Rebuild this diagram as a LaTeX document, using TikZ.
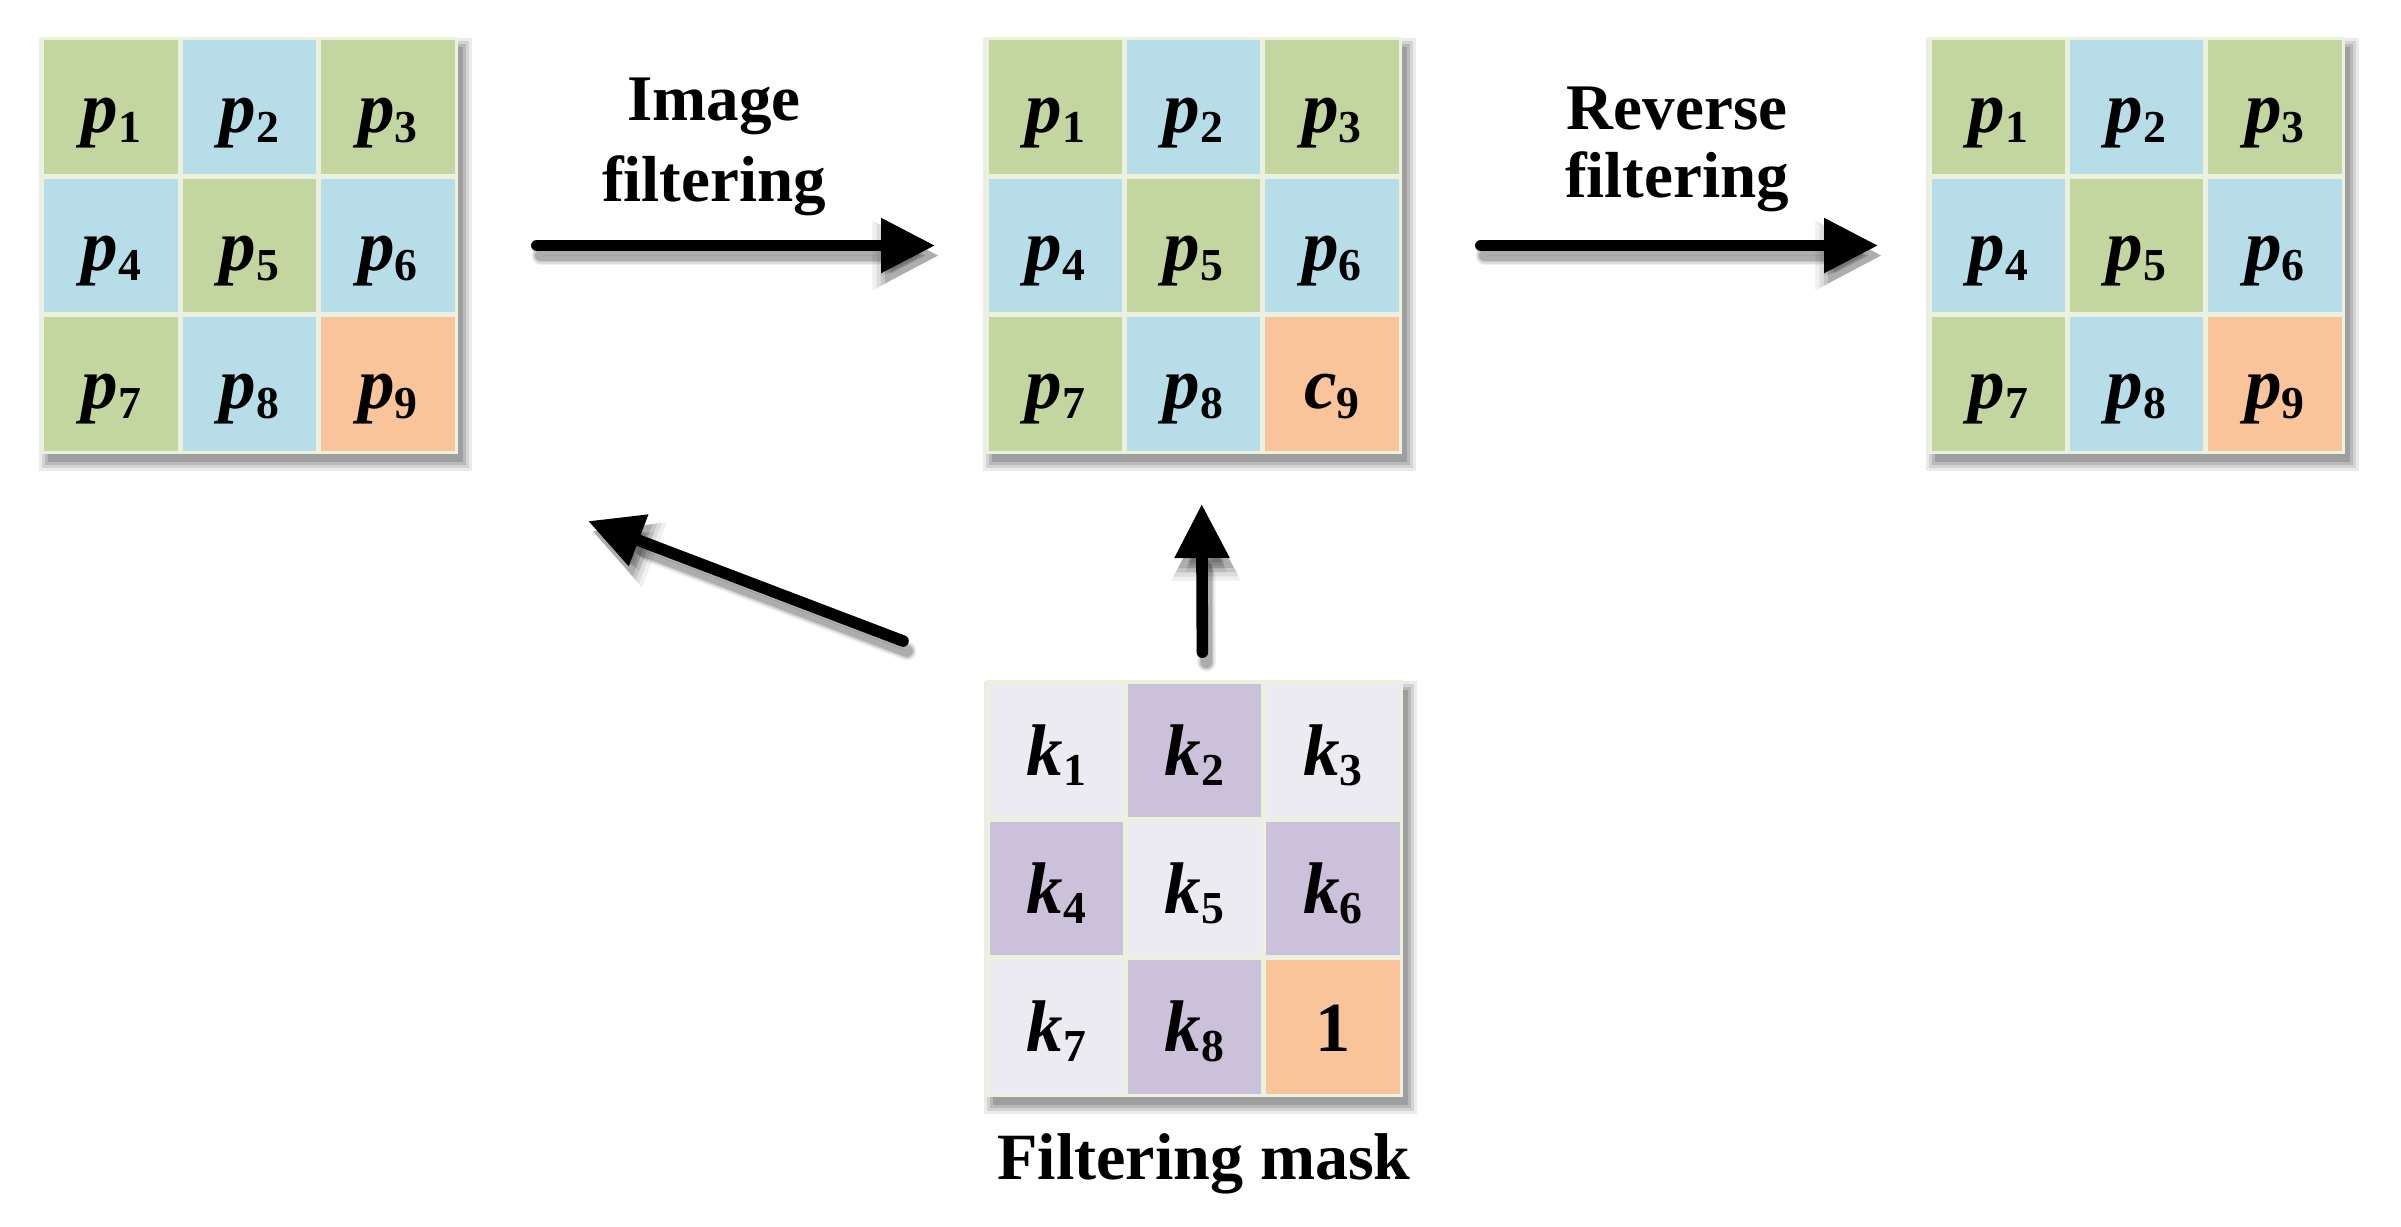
\documentclass[tikz,border=0pt]{standalone}
\usepackage{fontspec}
\setmainfont{Liberation Serif}
\usetikzlibrary{arrows.meta,calc}
\definecolor{cg}{HTML}{C4D69F}
\definecolor{cb}{HTML}{B7DDE8}
\definecolor{co}{HTML}{F9C49A}
\definecolor{ml}{HTML}{EDEBF2}
\definecolor{md}{HTML}{CCC1DA}
\definecolor{bord}{HTML}{EBF1DE}
\newcommand\plab[2]{{\fontsize{20.8pt}{24pt}\selectfont\bfseries\itshape #1}\raisebox{-2.8pt}{\fontsize{13pt}{15pt}\selectfont\bfseries #2}}
\newcommand\onelab{{\fontsize{20pt}{24pt}\selectfont\bfseries 1}}
\newcommand\gridshadow[2]{%
  \foreach \rr/\oo in {9/0.08,6/0.10,3/0.12,0/0.14}{%
    \fill[black,opacity=\oo] ({#1+6-\rr},{#2+9-\rr}) rectangle ({#1+421+\rr},{#2+424+\rr});
  }%
}
\newcommand\drawgrid[4]{%
  \gridshadow{#2}{#3}
  \node[gridbox] (#1) at ({#2+207.5},{#3+207.5}) {};
  \foreach \ro/\co/\cc/\lbl in {#4}{%
    \node[cell,fill=\cc] (#1-\ro\co) at ({#2+69.17+138.33*(\co-1)},{#3+69.17+138.33*(\ro-1)}) {\lbl};
  }%
}
\newcommand\allarrows[1]{%
  \draw[#1, shorten <=0.78cm, shorten >=0.49cm] (G1.east) -- (G2.west);
  \draw[#1, shorten <=0.78cm, shorten >=0.49cm] (G2.east) -- (G3.west);
  \draw[#1, shorten <=0.27cm, shorten >=0.49cm] ([xshift=0.08cm]M.north) -- ([xshift=0.08cm]G2.south);
  \draw[#1] (dtail) -- (dtip);
}
\begin{document}
\begin{tikzpicture}[x=0.01cm,y=-0.01cm,
  gridbox/.style={rectangle,fill=bord,draw=none,minimum size=4.17cm,inner sep=0pt},
  cell/.style={rectangle,draw=none,minimum size=1.333cm,inner sep=0pt,text height=0.6cm,text depth=0.1cm},
  arr/.style={line width=3.3pt,line cap=round,-{Triangle[length=15.4pt,width=14.8pt]}},
  lbl/.style={inner sep=0pt,align=center}]
\useasboundingbox[fill=white] (0,0) rectangle (2401,1226);

\drawgrid{G1}{42}{38}{1/1/cg/\plab{p}{1},1/2/cb/\plab{p}{2},1/3/cg/\plab{p}{3},2/1/cb/\plab{p}{4},2/2/cg/\plab{p}{5},2/3/cb/\plab{p}{6},3/1/cg/\plab{p}{7},3/2/cb/\plab{p}{8},3/3/co/\plab{p}{9}}
\drawgrid{G2}{986}{38}{1/1/cg/\plab{p}{1},1/2/cb/\plab{p}{2},1/3/cg/\plab{p}{3},2/1/cb/\plab{p}{4},2/2/cg/\plab{p}{5},2/3/cb/\plab{p}{6},3/1/cg/\plab{p}{7},3/2/cb/\plab{p}{8},3/3/co/\plab{c}{9}}
\drawgrid{G3}{1929}{38}{1/1/cg/\plab{p}{1},1/2/cb/\plab{p}{2},1/3/cg/\plab{p}{3},2/1/cb/\plab{p}{4},2/2/cg/\plab{p}{5},2/3/cb/\plab{p}{6},3/1/cg/\plab{p}{7},3/2/cb/\plab{p}{8},3/3/co/\plab{p}{9}}
\drawgrid{M}{987}{681}{1/1/ml/\plab{k}{1},1/2/md/\plab{k}{2},1/3/ml/\plab{k}{3},2/1/md/\plab{k}{4},2/2/ml/\plab{k}{5},2/3/md/\plab{k}{6},3/1/ml/\plab{k}{7},3/2/md/\plab{k}{8},3/3/co/\onelab}

\node[lbl,anchor=north,font=\fontsize{18.5pt}{23pt}\selectfont\bfseries] (T1) at (714,77) {Image\\filtering};
\node[lbl,anchor=north,font=\fontsize{18.5pt}{19.3pt}\selectfont\bfseries] (T2) at (1677,86) {Reverse\\filtering};
\node[lbl,anchor=base,font=\fontsize{18.8pt}{22pt}\selectfont\bfseries] (T3) at (1204,1179) {Filtering mask};

\coordinate (dtail) at (903,641);
\coordinate (dtip) at (588,521);

\begin{scope}[transform canvas={shift={(4,10)}}]
  \foreach \lw/\op/\tl/\tw in {5.4pt/0.06/19pt/18.4pt,4.6pt/0.08/17.8pt/17.2pt,3.9pt/0.10/16.6pt/16pt,3.3pt/0.12/15.4pt/14.8pt}{%
    \allarrows{line width=\lw,line cap=round,draw=black,fill=black,opacity=\op,-{Triangle[length=\tl,width=\tw]}}
  }
\end{scope}
\allarrows{arr}
\end{tikzpicture}
\end{document}
